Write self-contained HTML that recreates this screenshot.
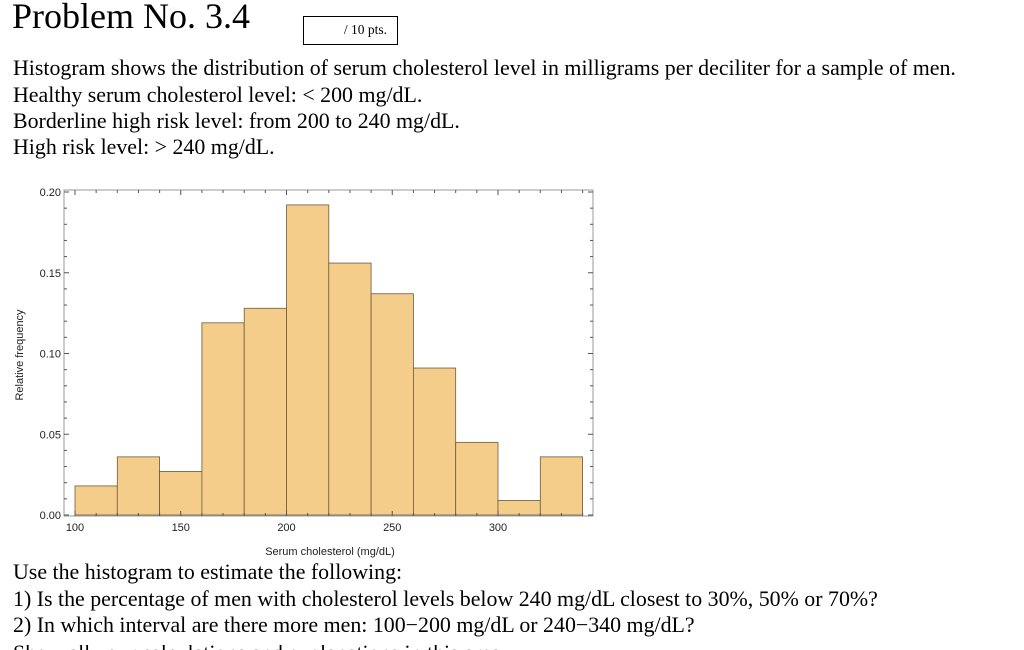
<!DOCTYPE html>
<html style="width:1024px;height:650px;overflow:hidden"><head><meta charset="utf-8"><style>
html,body{margin:0;width:1024px;height:650px;overflow:hidden}
body{background:#fff;position:relative;font-family:"Liberation Serif",serif;color:#000}
.t{position:absolute;white-space:nowrap;font-size:21.9px;left:13px}
</style></head><body>
<div class="t" style="left:12px;top:-5px;font-size:36px">Problem No. 3.4</div>
<div style="position:absolute;left:303px;top:16px;width:95px;height:29px;border:1.5px solid #000;font-size:13.5px;text-align:right;box-sizing:border-box;padding:5px 10px 0 0">/ 10 pts.</div>
<div class="t" style="top:55px">Histogram shows the distribution of serum cholesterol level in milligrams per deciliter for a sample of men.</div>
<div class="t" style="top:82px">Healthy serum cholesterol level: &lt; 200 mg/dL.</div>
<div class="t" style="top:108px">Borderline high risk level: from 200 to 240 mg/dL.</div>
<div class="t" style="top:134px">High risk level: &gt; 240 mg/dL.</div>
<svg id="chart" style="position:absolute;left:0;top:0" width="1024" height="650" font-family="Liberation Sans, sans-serif"></svg>
<div class="t" style="top:559px">Use the histogram to estimate the following:</div>
<div class="t" style="top:586px">1) Is the percentage of men with cholesterol levels below 240 mg/dL closest to 30%, 50% or 70%?</div>
<div class="t" style="top:612px">2) In which interval are there more men: 100−200 mg/dL or 240−340 mg/dL?</div>
<div style="position:absolute;left:0;top:645px;width:1024px;height:5px;overflow:hidden">
<div class="t" style="top:-5px">Show all your calculations and explanations in this area.</div>
</div>
<script>
const binStarts=[100,120,140,160,180,200,220,240,260,280,300,320];
const binWidth=20;
const freqs=[0.018,0.036,0.027,0.119,0.128,0.192,0.156,0.137,0.091,0.045,0.009,0.036];
const xTicks=[100,150,200,250,300];
const yTicks=[0,0.05,0.10,0.15,0.20];
const yTickLabels=["0.00","0.05","0.10","0.15","0.20"];
const NS="http://www.w3.org/2000/svg";
const svg=document.getElementById('chart');
const X=v=>75+(v-100)*2.115;
const Y=v=>515-v*1615;
function el(t,a,p){const e=document.createElementNS(NS,t);for(const k in a)e.setAttribute(k,a[k]);(p||svg).appendChild(e);return e;}
const L=64,R=593,T=190,B=516;
const frame=el('rect',{x:L,y:T,width:R-L,height:B-T,fill:'none',stroke:'#999','stroke-width':1});


binStarts.forEach((s,i)=>{
  const r=el('rect',{x:X(s),y:Y(freqs[i]),width:X(s+binWidth)-X(s),height:Y(0)-Y(freqs[i]),fill:'#f5cd8b',stroke:'#6b5a40','stroke-width':0.8});
  
  
});
for(let v=100;v<=340;v+=10){const maj=v%50===0;
  el('line',{x1:X(v),x2:X(v),y1:B,y2:B-(maj?5:3),stroke:'#555'});
  el('line',{x1:X(v),x2:X(v),y1:T,y2:T+(maj?5:3),stroke:'#555'});}
for(let k=0;k<=20;k++){const v=k*0.01,maj=k%5===0;
  el('line',{x1:L,x2:L+(maj?5:3),y1:Y(v),y2:Y(v),stroke:'#555'});
  el('line',{x1:R,x2:R-(maj?5:3),y1:Y(v),y2:Y(v),stroke:'#555'});}
xTicks.forEach(v=>{const t=el('text',{x:X(v),y:531,'font-size':11,'text-anchor':'middle',fill:'#222'});t.textContent=v;
  
  });
yTicks.forEach((v,i)=>{const t=el('text',{x:61,y:Y(v)+4,'font-size':11,'text-anchor':'end',fill:'#222'});t.textContent=yTickLabels[i];
  
  });
const xt=el('text',{x:330,y:555,'font-size':11,'text-anchor':'middle',fill:'#222'});xt.textContent='Serum cholesterol (mg/dL)';


const yt=el('text',{x:0,y:0,'font-size':11,'text-anchor':'middle',fill:'#222',transform:'translate(23,355) rotate(-90)'});yt.textContent='Relative frequency';


</script>
</body></html>
